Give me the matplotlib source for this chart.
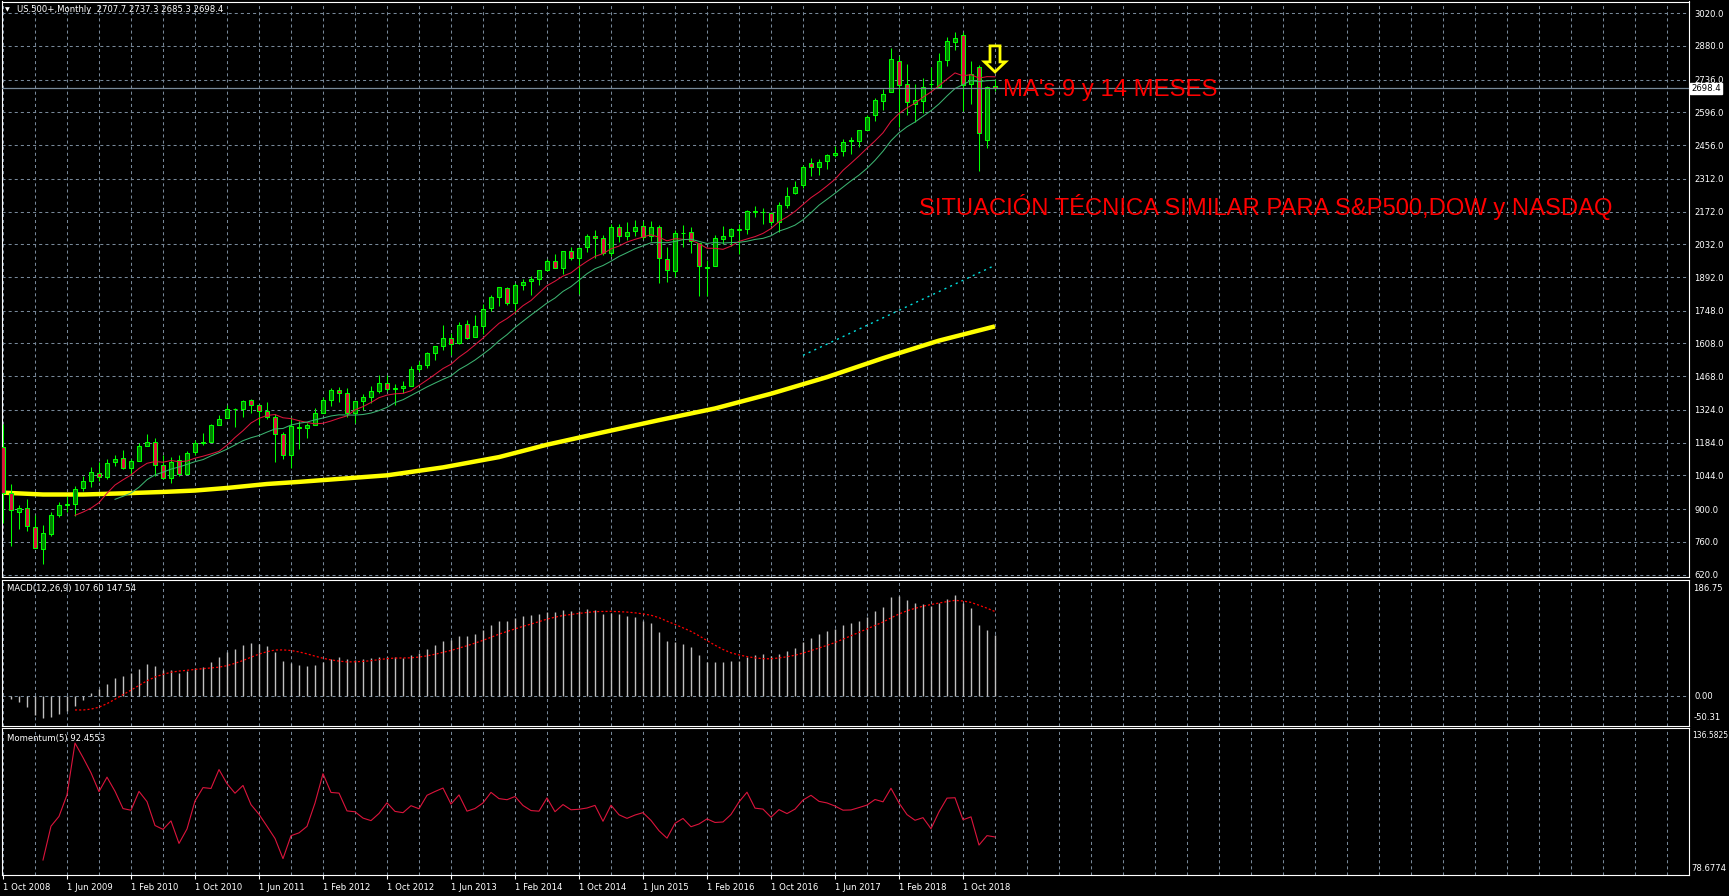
import numpy as np
import pandas as pd
import matplotlib
matplotlib.use('Agg')
import matplotlib.pyplot as plt
import matplotlib.transforms as mtransforms
from matplotlib.patches import Polygon

plt.rcParams['lines.scale_dashes'] = False

# US.500+ monthly candles, Oct 2008 .. Feb 2019 (one value per month)
opens = [1164.2, 968.7, 888.6,
         903.0, 823.1, 729.6, 793.6, 872.7, 923.3, 920.8, 990.2, 1019.5, 1054.9, 1036.2, 1098.9,
         1116.6, 1073.9, 1105.4, 1171.2, 1188.6, 1087.3, 1031.1, 1107.5, 1049.7, 1143.5, 1185.7, 1186.6,
         1257.6, 1289.1, 1328.6, 1329.5, 1365.2, 1345.2, 1320.6, 1292.6, 1219.1, 1131.2, 1251.0, 1246.9,
         1258.9, 1312.5, 1365.9, 1408.5, 1397.9, 1309.9, 1362.3, 1379.3, 1406.5, 1440.9, 1412.2, 1416.2,
         1426.2, 1498.1, 1514.7, 1569.2, 1597.6, 1631.7, 1609.8, 1689.4, 1636.0, 1682.4, 1758.7, 1806.6,
         1845.9, 1782.7, 1857.7, 1874.0, 1884.4, 1923.9, 1962.3, 1929.8, 2004.1, 1971.4, 2018.2, 2065.8,
         2058.9, 1996.7, 2105.2, 2067.6, 2087.4, 2108.6, 2067.0, 2104.5, 1970.1, 1919.7, 2080.8, 2082.9,
         2038.2, 1936.9, 1937.1, 2056.6, 2067.2, 2093.9, 2099.3, 2173.2, 2171.3, 2164.3, 2128.7, 2200.2,
         2251.6, 2285.6, 2380.1, 2362.3, 2388.5, 2415.7, 2431.4, 2477.1, 2474.4, 2521.2, 2583.2, 2645.1,
         2683.7, 2816.5, 2715.2, 2633.5, 2643.0, 2718.7, 2705.0, 2821.2, 2897.0, 2926.3, 2717.6, 2790.5,
         2477.0, 2707.7]
highs = [1264.3, 1007.5, 918.9,
         943.9, 875.0, 833.0, 888.7, 930.2, 956.2, 996.7, 1039.5, 1080.2, 1101.4, 1113.7, 1130.4,
         1150.5, 1112.4, 1180.2, 1219.8, 1205.1, 1131.2, 1121.0, 1129.2, 1148.9, 1196.1, 1227.1, 1262.6,
         1302.7, 1344.1, 1332.3, 1364.6, 1370.6, 1345.2, 1356.5, 1307.4, 1229.3, 1292.7, 1277.6, 1269.4,
         1333.5, 1378.0, 1419.2, 1422.4, 1415.3, 1363.5, 1391.7, 1426.7, 1474.5, 1471.0, 1434.3, 1448.0,
         1509.9, 1530.9, 1570.3, 1597.6, 1687.2, 1654.2, 1698.8, 1709.7, 1729.9, 1775.2, 1813.6, 1849.4,
         1850.8, 1867.9, 1884.0, 1897.3, 1924.0, 1968.2, 1991.4, 2005.0, 2019.3, 2018.2, 2075.8, 2093.6,
         2072.4, 2119.6, 2117.5, 2125.9, 2134.7, 2129.9, 2132.8, 2112.7, 2020.9, 2094.3, 2116.5, 2104.3,
         2038.2, 1963.0, 2072.2, 2111.1, 2103.5, 2120.6, 2177.1, 2193.8, 2187.9, 2169.6, 2214.1, 2277.5,
         2301.0, 2371.5, 2401.0, 2398.2, 2418.7, 2453.8, 2484.0, 2490.9, 2519.4, 2583.0, 2657.7, 2695.0,
         2872.9, 2836.0, 2801.9, 2717.5, 2742.2, 2791.5, 2848.0, 2916.5, 2940.9, 2939.9, 2815.2, 2800.2,
         2709.0, 2737.3]
lows = [839.8, 741.0, 815.7,
        804.3, 734.5, 666.8, 783.3, 866.1, 888.9, 869.3, 978.5, 992.0, 1020.2, 1029.4, 1085.9,
        1071.6, 1044.5, 1105.4, 1170.7, 1040.8, 1028.3, 1010.9, 1039.7, 1049.7, 1131.9, 1173.0, 1186.6,
        1257.6, 1289.1, 1249.1, 1294.7, 1311.8, 1258.1, 1282.9, 1101.5, 1114.2, 1074.8, 1158.7, 1202.4,
        1258.9, 1312.5, 1340.0, 1357.4, 1292.0, 1266.7, 1325.4, 1354.7, 1396.6, 1403.3, 1343.4, 1398.1,
        1426.2, 1485.0, 1501.5, 1536.0, 1581.3, 1560.3, 1604.6, 1627.5, 1633.4, 1646.5, 1746.2, 1768.0,
        1770.5, 1737.9, 1834.4, 1814.4, 1859.8, 1916.0, 1930.7, 1904.8, 1964.0, 1820.7, 2001.0, 1972.6,
        1988.1, 1980.9, 2039.7, 2048.4, 2067.9, 2056.3, 2044.0, 1867.0, 1871.9, 1893.7, 2019.4, 1993.3,
        1812.3, 1810.1, 1937.1, 2033.8, 2025.9, 1991.7, 2074.0, 2147.6, 2119.1, 2114.7, 2083.8, 2187.4,
        2245.1, 2271.7, 2322.3, 2329.0, 2352.7, 2405.7, 2407.7, 2417.4, 2446.6, 2520.4, 2557.5, 2605.5,
        2682.4, 2532.7, 2585.9, 2553.8, 2594.6, 2692.0, 2699.0, 2796.3, 2864.1, 2603.5, 2631.1, 2346.6,
        2444.0, 2685.3]
closes = [968.8, 896.2, 903.3,
          825.9, 735.1, 797.9, 872.8, 919.1, 919.3, 987.5, 1020.6, 1057.1, 1036.2, 1095.6, 1115.1,
          1073.9, 1104.5, 1169.4, 1186.7, 1089.4, 1030.7, 1101.6, 1049.3, 1141.2, 1183.3, 1180.6, 1257.6,
          1286.1, 1327.2, 1325.8, 1363.6, 1345.2, 1320.6, 1292.3, 1218.9, 1131.4, 1253.3, 1247.0, 1257.6,
          1312.4, 1365.7, 1408.5, 1397.9, 1310.3, 1362.2, 1379.3, 1406.6, 1440.7, 1412.2, 1416.2, 1426.2,
          1498.1, 1514.7, 1569.2, 1597.6, 1630.7, 1606.3, 1685.7, 1633.0, 1681.6, 1756.5, 1805.8, 1848.4,
          1782.6, 1859.5, 1872.3, 1884.0, 1923.6, 1960.2, 1930.7, 2003.4, 1972.3, 2018.1, 2067.6, 2058.9,
          1995.0, 2104.5, 2067.9, 2085.5, 2107.4, 2063.1, 2103.8, 1972.2, 1920.0, 2079.4, 2080.4, 2043.9,
          1940.2, 1932.2, 2059.7, 2065.3, 2097.0, 2098.9, 2173.6, 2171.0, 2168.3, 2126.2, 2198.8, 2238.8,
          2278.9, 2363.6, 2362.7, 2384.2, 2411.8, 2423.4, 2470.3, 2471.7, 2519.4, 2575.3, 2647.6, 2673.6,
          2823.8, 2713.8, 2640.9, 2648.1, 2705.3, 2718.4, 2816.3, 2901.5, 2914.0, 2711.7, 2760.2, 2506.9,
          2704.1, 2698.4]

# thick yellow long average (month index, price)
slow_idx = [0, 5, 10, 15, 20, 24, 28, 33, 37, 48, 55, 62, 68, 75, 82, 89, 96, 103, 110, 117, 124]
slow_val = [970, 962, 962, 967, 973, 979, 990, 1007, 1016, 1044, 1078, 1122, 1175, 1228, 1280,
            1330, 1393, 1464, 1545, 1620, 1681]

# cyan dotted line
trend_idx = [100, 124]
trend_val = [1557, 1942]

price_ticks = [3020, 2880, 2736, 2596, 2456, 2312, 2172, 2032, 1892, 1748, 1608, 1468,
               1324, 1184, 1044, 900, 760, 620]
date_labels = ['1 Oct 2008', '1 Jun 2009', '1 Feb 2010', '1 Oct 2010', '1 Jun 2011', '1 Feb 2012',
               '1 Oct 2012', '1 Jun 2013', '1 Feb 2014', '1 Oct 2014', '1 Jun 2015', '1 Feb 2016',
               '1 Oct 2016', '1 Jun 2017', '1 Feb 2018', '1 Oct 2018']

W, H = 1729, 896
GRID = '#778899'
LIME = '#00ff00'
FS = 6.1

fig = plt.figure(figsize=(W / 100, H / 100), dpi=100, facecolor='black')


def panel(x0, y0, x1, y1):
    ax = fig.add_axes([x0 / W, 1 - y1 / H, (x1 - x0) / W, (y1 - y0) / H])
    ax.set_facecolor('black')
    for s in ax.spines.values():
        s.set_color('white')
        s.set_linewidth(0.8)
    ax.set_xlim(-0.125, 210.75)
    ax.set_xticks(np.arange(0, 121, 8))
    ax.set_xticks(np.arange(0, 211, 4), minor=True)
    ax.grid(True, which='both', axis='x', color=GRID, lw=0.75, linestyle=(0, (2.2, 2.2)))
    ax.tick_params(axis='x', which='both', length=0, labelbottom=False)
    ax.tick_params(axis='y', which='both', length=0, pad=4, labelsize=FS, labelcolor='white')
    ax.yaxis.tick_right()
    ax.set_axisbelow(True)
    return ax


ax = panel(2, 1.5, 1689, 576.7)
ax_macd = panel(2, 579.5, 1689, 725.7)
ax_mom = panel(2, 728, 1689, 875)

idx = np.arange(len(closes))
o = np.array(opens)
c = np.array(closes)
close_s = pd.Series(closes)

# main chart
ax.set_ylim(610.6, 3070)
ax.set_yticks(price_ticks)
ax.set_yticklabels([f'{v:.1f}' for v in price_ticks])
ax.grid(True, axis='y', color=GRID, lw=0.75, linestyle=(0, (2.2, 2.2)))

ax.plot(slow_idx, slow_val, color='#ffff00', lw=3.2, solid_capstyle='butt', zorder=2)
ax.plot(trend_idx, trend_val, color='#00e0e0', lw=1, linestyle=(0, (1.5, 3)), zorder=2)

ax.vlines(idx, lows, highs, color=LIME, lw=0.75, zorder=3)
ax.bar(idx, c - o, bottom=o, width=0.6, color=np.where(c >= o, '#008000', '#dc143c'),
       edgecolor=LIME, linewidth=0.75, zorder=4)

ma9 = close_s.rolling(9).mean()
ma9[:9] = np.nan
ma14 = close_s.rolling(14).mean()
ma14[:14] = np.nan
ax.plot(idx, ma9, color='#dc143c', lw=0.75, zorder=5)
ax.plot(idx, ma14, color='#3cb371', lw=0.75, zorder=5)

last = closes[-1]
ax.axhline(last, color=GRID, lw=0.9, zorder=6)
ax.annotate(f'{last:.1f}', xy=(1, last), xycoords=('axes fraction', 'data'),
            xytext=(1.5, 0), textcoords='offset points', va='center', ha='left',
            fontsize=FS, color='black',
            bbox=dict(boxstyle='square,pad=0.12', fc='white', ec='white'))

# hollow down arrow over the last bar
arrow_at = (124, 2769)
shape = np.array([(0, 0), (10.5, 10), (5, 10), (5, 26), (-5, 26), (-5, 10), (-10.5, 10)]) / 100.0
trans = fig.dpi_scale_trans + mtransforms.ScaledTranslation(arrow_at[0], arrow_at[1], ax.transData)
ax.add_patch(Polygon(shape, closed=True, transform=trans, fill=False, ec='#ffff00', lw=2, zorder=7))

fig.text(1003 / W, 1 - 95.7 / H, "MA's 9 y 14 MESES", va='baseline', ha='left',
         fontsize=17.2, family='Liberation Sans', color='#ff0000')
fig.text(919 / W, 1 - 214.7 / H, 'SITUACIÓN TÉCNICA SIMILAR PARA S&P500,DOW y NASDAQ',
         va='baseline', ha='left', fontsize=17.1, family='Liberation Sans', color='#ff0000')

fig.text(5 / W, 1 - 9.7 / H, '▼', va='center', ha='left', fontsize=4.5, color='white')
fig.text(17 / W, 1 - 9.7 / H, 'US.500+,Monthly  2707.7 2737.3 2685.3 2698.4',
         va='center', ha='left', fontsize=FS, color='white')

# MACD(12,26,9)
ema12 = close_s.ewm(span=12, adjust=False).mean()
ema26 = close_s.ewm(span=26, adjust=False).mean()
macd = ema12 - ema26
signal = macd.rolling(9).mean()
signal[:9] = np.nan

ax_macd.set_ylim(-51.36, 201.45)
ax_macd.set_yticks([0])
ax_macd.set_yticklabels(['0.00'])
ax_macd.grid(True, axis='y', color=GRID, lw=0.75, linestyle=(0, (2.2, 2.2)))
ax_macd.vlines(idx, 0, macd, color='#c0c0c0', lw=1.0, zorder=3)
ax_macd.plot(idx, signal, color='#ff0000', lw=0.9, linestyle=(0, (1.5, 1.5)), zorder=4)
ax_macd.annotate('186.75', xy=(1, 186.75), xycoords=('axes fraction', 'data'),
                 xytext=(3, 0), textcoords='offset points', va='center', ha='left',
                 fontsize=FS, color='white', annotation_clip=False)
ax_macd.annotate('-50.31', xy=(1, 0), xycoords='axes fraction',
                 xytext=(3, 2.5), textcoords='offset points', va='bottom', ha='left',
                 fontsize=FS, color='white', annotation_clip=False)
fig.text(7 / W, 1 - 588.5 / H, 'MACD(12,26,9) 107.60 147.54', va='center', ha='left',
         fontsize=FS, color='white')

# Momentum(5)
mom = close_s / close_s.shift(5) * 100
ax_mom.set_ylim(75.70, 141.03)
ax_mom.set_yticks([])
ax_mom.plot(idx, mom, color='#dc143c', lw=0.8, zorder=3)
ax_mom.annotate('136.5825', xy=(1, 1), xycoords='axes fraction',
                xytext=(2, -5.5), textcoords='offset points', va='center', ha='left',
                fontsize=5.5, color='white', annotation_clip=False)
ax_mom.annotate('78.6774', xy=(1, 0), xycoords='axes fraction',
                xytext=(2, 4.5), textcoords='offset points', va='center', ha='left',
                fontsize=FS, color='white', annotation_clip=False)
fig.text(7 / W, 1 - 738 / H, 'Momentum(5) 92.4553', va='center', ha='left',
         fontsize=FS, color='white')

ax_mom.set_xticklabels(date_labels, ha='left')
ax_mom.tick_params(axis='x', which='major', length=3, width=0.8, color='white', direction='out',
                   labelbottom=True, labelsize=FS, labelcolor='white', pad=2.5)

fig.savefig('out.png', dpi=100, facecolor='black')
